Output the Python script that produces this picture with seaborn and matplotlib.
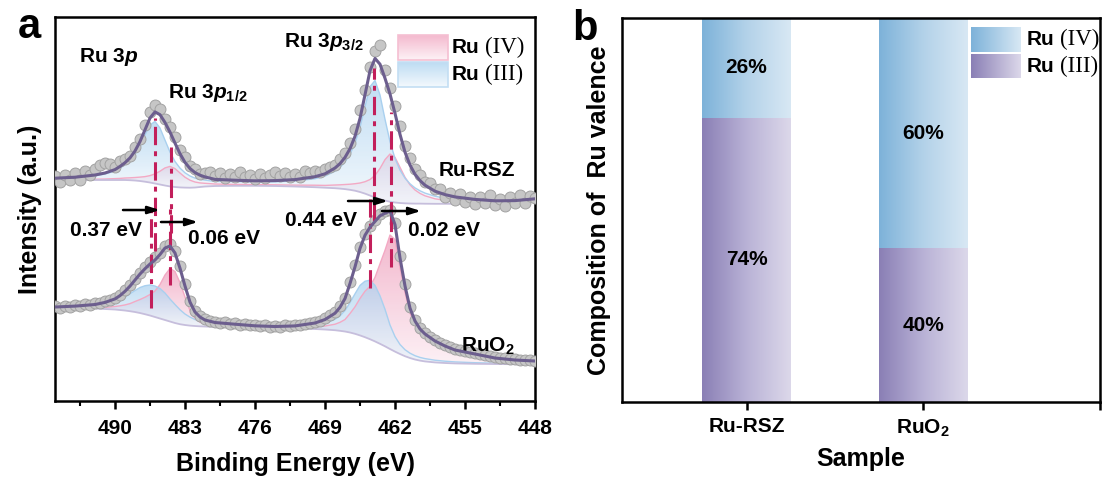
import numpy as np
import matplotlib
matplotlib.use("Agg")
import matplotlib.pyplot as plt
from matplotlib.colors import LinearSegmentedColormap
from matplotlib.patches import Rectangle
import seaborn as sns

# ---------------------------------------------------------------- data
# Binding-energy grid of the peak-fit curves (eV)
energy_ev = [496, 494, 492, 491, 490, 489.5, 489, 488.5, 488, 487.5,
             487, 486.5, 486, 485.5, 485, 484.5, 484, 483.5, 483, 482.5,
             482, 481.5, 481, 480, 478, 476, 474, 472, 470, 469,
             468, 467.5, 467, 466.5, 466, 465.5, 465, 464.5, 464, 463.5,
             463, 462.5, 462, 461.5, 461, 460.5, 460, 459.5, 459, 458,
             457, 456, 454, 452, 450, 448]

# Ru-RSZ: background and the two fitted components (height above background)
rsz_background = [221, 221, 221, 221, 221, 221, 221, 220.8, 220.5, 220,
                  219.3, 218.5, 217.5, 216.5, 215.5, 214.6, 214, 213.6, 213.4, 213.3,
                  213.5, 214, 214.5, 215, 215.2, 215.2, 215, 214.5, 213.8, 213.3,
                  212.8, 212.4, 211.9, 211.2, 210.3, 209, 207.4, 205.5, 203.5, 201.8,
                  200.4, 199.3, 198.5, 198, 197.7, 197.5, 197.4, 197.4, 197.3, 197.2,
                  197.2, 197.2, 197.2, 197.2, 198.2, 200.5]
rsz_ru3 = [1.5, 2.3, 4.2, 6, 9, 12, 15.3, 19.9, 26.5, 35.5,
           46.8, 57.6, 62, 56.5, 45.4, 34.3, 25.5, 19.3, 14.8, 11.7,
           9.4, 7.7, 6.4, 4.6, 4.2, 3.8, 4.2, 5.5, 8.5, 11.6,
           17, 21.2, 27.1, 35.5, 47.4, 64.6, 87, 108.8, 117, 104.2,
           81.3, 60, 44, 32.9, 25.1, 19.7, 15.7, 12.8, 10.6, 7.6,
           5.7, 4.4, 2.9, 2.0, 1.5, 1.2]
rsz_ru4 = [0.3, 0.5, 0.8, 1.0, 1.4, 1.6, 2.0, 2.4, 3.0, 3.9,
           5.1, 6.9, 9.6, 13.3, 17.6, 20, 18.4, 14.4, 10.4, 7.5,
           5.5, 4.1, 3.2, 2.0, 1.4, 1.2, 1.2, 1.4, 2.0, 2.3,
           3.2, 3.8, 4.6, 5.6, 7.0, 9.0, 11.9, 16, 22.1, 30.8,
           41, 47.7, 45.1, 35.7, 26, 18.7, 13.6, 10.2, 7.9, 5.0,
           3.5, 2.5, 1.5, 1.0, 0.7, 0.5]

# RuO2: background and the two fitted components (height above background)
ruo2_background = [93, 93, 92.5, 92, 91.5, 91, 90.5, 89.8, 89, 88,
                   86.8, 85.5, 84, 82.5, 81, 79.5, 78, 76.8, 76, 75.4,
                   75, 74.7, 74.5, 74.2, 73.8, 73.4, 73, 72.6, 72, 71.5,
                   70.8, 70.2, 69.5, 68.5, 67.2, 65.6, 63.8, 61.8, 59.6, 57.2,
                   54.7, 52, 49.4, 47, 44.8, 43, 41.5, 40.4, 39.6, 38.6,
                   38, 37.6, 37.2, 37, 36.8, 36.6]
ruo2_ru3 = [0.8, 1.5, 3.0, 5.0, 7.6, 10.2, 13.6, 17.5, 21.5, 25.5,
            28.5, 30.5, 31, 30, 27, 22.5, 18.5, 14.5, 11, 8.5,
            6.5, 5.2, 4.2, 3.0, 2.0, 1.0, 0.8, 1.5, 3.8, 6.5,
            11, 15, 21, 30, 40, 50, 56, 59, 56, 48,
            37, 24, 15, 9.5, 6.5, 4.8, 3.8, 3.2, 2.8, 2.2,
            1.8, 1.5, 1.1, 0.8, 0.6, 0.5]
ruo2_ru4 = [0.2, 0.4, 1.0, 1.6, 3.0, 4.2, 5.6, 7.6, 10.5, 13.5,
            17, 21, 26, 34, 45, 53, 51.5, 41.5, 28, 15,
            7.5, 4.1, 2.3, 1.3, 1.0, 0.8, 0.7, 1.0, 2.2, 3.5,
            6, 8.5, 12, 19, 27, 37, 46, 53, 64, 80,
            96, 114, 112, 86.5, 63.7, 45, 34.7, 28.4, 24.6, 19.2,
            15.2, 11.9, 8.7, 5.2, 3.6, 2.9]

# Measured spectra, 0.5 eV steps from 496 eV down to 448 eV
rsz_counts = [225, 219, 226, 221.5, 228, 221, 230, 226.5, 232, 236,
              238, 236.7, 234.4, 239.6, 242.3, 245, 254, 262.4, 276, 289,
              296, 292, 282.5, 274, 264, 251.3, 243.6, 235.5, 232, 227.5,
              228, 228.8, 224.6, 228.4, 223.2, 227, 223.8, 228.6, 224.5, 226.4,
              222.2, 227.3, 223.3, 226.4, 229.4, 224.6, 227.9, 224.1, 227.4, 224.1,
              229.9, 227.6, 230.3, 228.8, 232.2, 234.1, 236, 242.4, 247.6, 258.3,
              271.6, 290.6, 311.3, 334.3, 350, 356, 330.7, 313, 294.6, 274.6,
              254.8, 242.9, 231.7, 226.4, 218.8, 217.8, 211.8, 212.1, 204.4, 208.3,
              201.1, 207.5, 198.9, 204.3, 196.6, 204.3, 197.9, 205.6, 196.2, 202.3,
              195.3, 204.4, 198.4, 205.9, 198.3, 204.8, 203.2]
ruo2_counts = [95, 93, 95.5, 94, 96, 95, 97, 96, 98, 98.5,
               100, 101, 103.5, 106, 111, 116, 122.5, 128.5, 134, 139,
               144, 148, 155, 157, 150, 135, 117, 100.5, 90.5, 85.5,
               82.5, 80.5, 79.5, 78.5, 79, 77.5, 78, 76.5, 77, 76,
               76.5, 75, 76, 74, 75.5, 74, 76, 75, 76.5, 76,
               77.5, 78, 79.5, 80.5, 83, 86, 89.5, 95, 103, 119,
               136, 154.5, 167, 175.5, 181.5, 187, 190, 191.5, 178.5, 145,
               117, 94.5, 81.5, 73.5, 68.5, 64.5, 61.5, 58.5, 56, 54,
               52, 51, 50, 49, 48, 47, 46, 45, 44, 43.5,
               43, 42.5, 42, 41.5, 41, 41, 40.5]

# Fitted peak positions (eV): [Ru 3p1/2, Ru 3p3/2]
rsz_ru3_peaks = [486.03, 464.06]
rsz_ru4_peaks = [484.44, 462.38]
ruo2_ru3_peaks = [486.40, 464.50]
ruo2_ru4_peaks = [484.50, 462.40]

# Valence composition (%)
samples = ["Ru-RSZ", "RuO$_2$"]
ru4_share = [26, 60]
ru3_share = [74, 40]

# ---------------------------------------------------------------- style
sns.set_style("ticks")
plt.rcParams["font.family"] = ["Liberation Sans", "DejaVu Sans"]
plt.rcParams["font.weight"] = "bold"
plt.rcParams["mathtext.fontset"] = "custom"
plt.rcParams["mathtext.rm"] = "Liberation Sans:bold"
plt.rcParams["mathtext.it"] = "Liberation Sans:bold:italic"
plt.rcParams["mathtext.bf"] = "Liberation Sans:bold"
plt.rcParams["axes.linewidth"] = 1.8
plt.rcParams["axes.edgecolor"] = "black"
plt.rcParams["text.color"] = "black"
plt.rcParams["axes.labelcolor"] = "black"
plt.rcParams["xtick.color"] = "black"
plt.rcParams["ytick.color"] = "black"

SERIF = "Liberation Serif"
BLUE_TOP, BLUE_BOT = "#a6cfef", "#eef6fc"
PINK_TOP, PINK_BOT = "#f0a6c1", "#fcedf3"
LINE_RED = "#c21f5b"
FIT_COLOR = "#6c5e8e"
FS_TEXT = 15

E = np.array(energy_ev)
raw_energy = np.arange(496, 447.75, -0.5)
assert len(raw_energy) == len(rsz_counts) == len(ruo2_counts)


def gradient_fill(ax, x, lower, upper, top, bottom, alpha, z):
    """Fill between two curves with a vertical colour ramp, one block per doublet line."""
    x, lower, upper = map(np.asarray, (x, lower, upper))
    ramp = np.linspace(0, 1, 256).reshape(-1, 1)
    cmap = LinearSegmentedColormap.from_list("ramp", [bottom, top])
    for mask in (x >= 474, x <= 474):
        xs, lo, hi = x[mask], lower[mask], upper[mask]
        poly = ax.fill_between(xs, lo, hi, facecolor="none", edgecolor="none", zorder=z)
        im = ax.imshow(ramp, extent=(xs.max(), xs.min(), lo.min(), hi.max()),
                       origin="lower", cmap=cmap, aspect="auto", alpha=alpha,
                       zorder=z, interpolation="bilinear")
        im.set_clip_path(poly.get_paths()[0], ax.transData)


def gradient_box(ax, x0, y0, w, h, c0, c1, vertical, edge=None, z=5):
    """Colour-ramped rectangle in axes coordinates (legend keys)."""
    ramp = np.linspace(0, 1, 256)
    ramp = ramp.reshape(-1, 1) if vertical else ramp.reshape(1, -1)
    cmap = LinearSegmentedColormap.from_list("key", [c0, c1])
    ax.imshow(ramp, extent=(x0, x0 + w, y0, y0 + h), origin="lower", cmap=cmap,
              aspect="auto", transform=ax.transAxes, zorder=z, interpolation="bilinear")
    if edge:
        ax.add_patch(Rectangle((x0, y0), w, h, transform=ax.transAxes, fill=False,
                               edgecolor=edge, lw=1.2, zorder=z + 0.1))


def valence_label(ax, x, y, numeral, gap):
    ax.text(x, y, "Ru", transform=ax.transAxes, fontsize=FS_TEXT, fontweight="bold",
            va="center", ha="left", zorder=6)
    ax.text(x + gap, y, f"({numeral})", transform=ax.transAxes, fontsize=16.5,
            family=SERIF, fontweight="normal", va="center", ha="left", zorder=6)


fig = plt.figure(figsize=(11.02, 4.79), dpi=100)
ax_a = fig.add_axes([0.0499, 0.1628, 0.4356, 0.8017])
ax_b = fig.add_axes([0.5644, 0.1607, 0.4338, 0.8017])

# ---------------------------------------------------------------- panel a
spectra = [
    (rsz_background, rsz_ru3, rsz_ru4, rsz_counts),
    (ruo2_background, ruo2_ru3, ruo2_ru4, ruo2_counts),
]
for bg, ru3, ru4, counts in spectra:
    bg, ru3, ru4 = map(np.asarray, (bg, ru3, ru4))
    fit = bg + ru3 + ru4
    gradient_fill(ax_a, E, bg, bg + ru4, PINK_TOP, PINK_BOT, 0.8, 1.0)
    gradient_fill(ax_a, E, bg, bg + ru3, BLUE_TOP, BLUE_BOT, 0.7, 1.1)
    ax_a.plot(E, bg + ru4, color="#f3a9c4", lw=1.0, zorder=1.5)
    ax_a.plot(E, bg + ru3, color="#a9d0ef", lw=1.0, zorder=1.5)
    ax_a.plot(E, bg, color="#c6bedc", lw=1.3, zorder=1.6)
    sns.scatterplot(x=raw_energy, y=counts, ax=ax_a, s=62, color="#c6c6c6",
                    edgecolor="#a2a2a2", linewidth=0.7, zorder=3, legend=False)
    sns.lineplot(x=E, y=fit, ax=ax_a, color=FIT_COLOR, lw=2.2, zorder=4, sort=False)

# peak-position markers (lower/upper intensity of each marker line)
rsz_spans = [(150, 283), (168, 254), (180, 333), (181, 289)]
ruo2_spans = [(93, 199), (116, 192), (113, 202), (134, 206)]
rsz_pos = [rsz_ru3_peaks[0], rsz_ru4_peaks[0], rsz_ru3_peaks[1], rsz_ru4_peaks[1]]
ruo2_pos = [ruo2_ru3_peaks[0], ruo2_ru4_peaks[0], ruo2_ru3_peaks[1], ruo2_ru4_peaks[1]]
dash = (0, (6, 2, 1.6, 2))
for pos, spans in ((rsz_pos, rsz_spans), (ruo2_pos, ruo2_spans)):
    for e, (lo, hi) in zip(pos, spans):
        ax_a.plot([e, e], [lo, hi], color=LINE_RED, lw=2.2, ls=dash, zorder=3.5)

# binding-energy shifts
shifts = [ruo2_ru3_peaks[0] - rsz_ru3_peaks[0], ruo2_ru4_peaks[0] - rsz_ru4_peaks[0],
          ruo2_ru3_peaks[1] - rsz_ru3_peaks[1], ruo2_ru4_peaks[1] - rsz_ru4_peaks[1]]
arrows = [((489.2, 191), (485.5, 191)), ((485.4, 179), (481.7, 179)),
          ((466.7, 200), (462.7, 200)), ((463.3, 190), (459.4, 190))]
text_xy = [(490.9, 171), (479.1, 163), (469.4, 181), (457.1, 171)]
for d, (start, end), (tx, ty) in zip(shifts, arrows, text_xy):
    ax_a.annotate("", xy=end, xytext=start,
                  arrowprops=dict(arrowstyle="-|>,head_length=0.7,head_width=0.22",
                                  lw=1.8, color="black", shrinkA=0, shrinkB=0),
                  zorder=6)
    ax_a.text(tx, ty, f"{round(d, 2):.2f} eV", fontsize=FS_TEXT, ha="center",
              va="center", zorder=6)

ax_a.text(493.6, 339, "Ru 3$p$", fontsize=FS_TEXT, ha="left", va="baseline")
ax_a.text(484.7, 303, "Ru 3$p_{1/2}$", fontsize=FS_TEXT, ha="left", va="baseline")
ax_a.text(473.1, 354, "Ru 3$p_{3/2}$", fontsize=FS_TEXT, ha="left", va="baseline")
ax_a.text(450.0, 231, "Ru-RSZ", fontsize=FS_TEXT, ha="right", va="center")
ax_a.text(455.4, 49, "RuO$_2$", fontsize=FS_TEXT, ha="left", va="baseline")

gradient_box(ax_a, 0.715, 0.888, 0.104, 0.065, "#fdf2f6", "#f4b9ce", True, "#f5bfd2")
gradient_box(ax_a, 0.715, 0.818, 0.104, 0.065, "#f4f9fd", "#bddcf3", True, "#c3def3")
valence_label(ax_a, 0.827, 0.921, "IV", 0.069)
valence_label(ax_a, 0.827, 0.851, "III", 0.069)

ax_a.set_xlim(496, 448)
ax_a.set_ylim(0, 384)
ax_a.set_xticks([490, 483, 476, 469, 462, 455, 448])
ax_a.set_xticks([493.5, 486.5, 479.5, 472.5, 465.5, 458.5, 451.5], minor=True)
ax_a.set_yticks([])
ax_a.tick_params(axis="x", which="major", direction="out", length=6, width=1.8,
                 labelsize=15, pad=7, top=False)
ax_a.tick_params(axis="x", which="minor", direction="out", length=3.5, width=1.5, top=False)
ax_a.set_xlabel("Binding Energy (eV)", fontsize=18, fontweight="bold", labelpad=10)
ax_a.set_ylabel("Intensity (a.u.)", fontsize=18, fontweight="bold", labelpad=9)
for s in ax_a.spines.values():
    s.set_visible(True)
    s.set_linewidth(1.8)

# ---------------------------------------------------------------- panel b
totals = [a + b for a, b in zip(ru3_share, ru4_share)]
sns.barplot(x=samples, y=totals, ax=ax_b, color="#7fb3da", width=0.5,
            saturation=1, errorbar=None, edgecolor="none")
sns.barplot(x=samples, y=ru3_share, ax=ax_b, color="#8a80b5", width=0.5,
            saturation=1, errorbar=None, edgecolor="none")

blue_ramp = LinearSegmentedColormap.from_list("ru4", ["#7db2d9", "#b3d2e9", "#d8e8f4"])
purple_ramp = LinearSegmentedColormap.from_list("ru3", ["#8a7fb5", "#b9b2d6", "#dcd8ea"])
h_ramp = np.linspace(0, 1, 256).reshape(1, -1)
for i, patch in enumerate(ax_b.patches):
    cmap = blue_ramp if i < len(samples) else purple_ramp
    x0, y0 = patch.get_x(), patch.get_y()
    w, h = patch.get_width(), patch.get_height()
    im = ax_b.imshow(h_ramp, extent=(x0, x0 + w, y0, y0 + h), origin="lower",
                     cmap=cmap, aspect="auto", zorder=2 + 0.1 * (i >= len(samples)),
                     interpolation="bilinear")
    im.set_clip_path(patch)
    patch.set_facecolor("none")

for i in range(len(samples)):
    ax_b.text(i, ru3_share[i] / 2, f"{ru3_share[i]}%", ha="center", va="center",
              fontsize=FS_TEXT, zorder=5)
    ax_b.text(i, ru3_share[i] + ru4_share[i] / 2, f"{ru4_share[i]}%", ha="center",
              va="center", fontsize=FS_TEXT, zorder=5)

gradient_box(ax_b, 0.730, 0.911, 0.103, 0.063, "#7db2d9", "#d8e8f4", False)
gradient_box(ax_b, 0.730, 0.844, 0.103, 0.060, "#8a7fb5", "#dcd8ea", False)
valence_label(ax_b, 0.847, 0.943, "IV", 0.07)
valence_label(ax_b, 0.847, 0.874, "III", 0.07)

ax_b.set_xlim(-0.705, 2.0)
ax_b.set_ylim(0, 100)
ax_b.set_xticks([0, 1, 2])
ax_b.set_xticklabels(samples + [""])
ax_b.set_yticks([])
ax_b.tick_params(axis="x", direction="out", length=6, width=1.8, labelsize=15, pad=5)
ax_b.set_xlabel("Sample", fontsize=18, fontweight="bold", labelpad=6)
ax_b.set_ylabel("Composition of  Ru valence", fontsize=18, fontweight="bold", labelpad=8)
for s in ax_b.spines.values():
    s.set_visible(True)
    s.set_linewidth(1.8)

fig.text(0.027, 0.943, "a", fontsize=30, fontweight="bold", ha="center", va="center")
fig.text(0.531, 0.940, "b", fontsize=30, fontweight="bold", ha="center", va="center")

fig.savefig("out.png", dpi=100)
